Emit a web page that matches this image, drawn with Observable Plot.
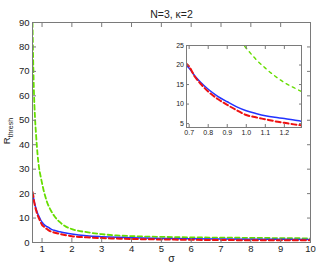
<!DOCTYPE html>
<html><head><meta charset="utf-8">
<script src="https://cdn.jsdelivr.net/npm/d3@7"></script>
<script src="https://cdn.jsdelivr.net/npm/@observablehq/plot@0.6"></script>
<style>
body{margin:0;background:#fff}
#c{position:relative;width:318px;height:267px}
#c svg{font-family:"Liberation Sans",Arial,sans-serif}
#inset{position:absolute;left:166px;top:40px}
</style>
</head><body><div id="c"></div>
<script>
const sigma = [0.68,0.7,0.73,0.76,0.8,0.85,0.9,0.95,1.0,1.05,1.1,1.15,1.2,1.25,1.3,1.4,1.6,1.8,2,2.5,3,3.5,4,5,6,7,8,9,10];
const blue  = [20.2,19.2,17.2,15.6,13.8,12.0,10.6,9.3,8.3,7.6,7.0,6.6,6.3,5.9,5.5,5.0,4.4,3.9,3.5,2.8,2.4,2.1,1.9,1.65,1.5,1.4,1.35,1.3,1.25];
const red   = [20.6,19.6,17.0,15.2,13.2,11.3,9.8,8.4,7.2,6.6,6.1,5.6,5.2,4.8,4.5,4.1,3.5,3.0,2.6,2.1,1.8,1.6,1.45,1.25,1.1,1.0,0.95,0.9,0.9];
const green = [90,76,61,52,44,36,30.5,27.2,24.3,21.5,19.2,17.2,15.5,14.2,13.0,11.0,8.3,6.5,5.5,4.2,3.4,2.9,2.6,2.3,2.1,2.0,1.9,1.8,1.7];
const xTicks = [1,2,3,4,5,6,7,8,9,10];
const yTicks = [0,10,20,30,40,50,60,70,80,90];
const insetXTicks = [0.7,0.8,0.9,1,1.1,1.2];
const insetYTicks = [5,10,15,20,25];
const title = "N=3, κ=2";
const xLabel = "σ";

const data = sigma.map((s,i)=>({sigma:s, blue:blue[i], red:red[i], green:green[i]}));
const axisCol = "#7a7a7a";
const lines = (gDash, gW) => [
  Plot.line(data,{x:"sigma",y:"green",stroke:"#66dd00",strokeWidth:gW,strokeDasharray:gDash,curve:"monotone-x",clip:true}),
  Plot.line(data,{x:"sigma",y:"blue",stroke:"#2233ff",strokeWidth:1.5,curve:"monotone-x",clip:true}),
  Plot.line(data,{x:"sigma",y:"red",stroke:"#ee1111",strokeWidth:2,strokeDasharray:"5,3",curve:"monotone-x",clip:true})
];

const main = Plot.plot({
  width:318, height:267,
  marginLeft:32, marginRight:8, marginTop:22, marginBottom:25,
  style:{fontFamily:"'Liberation Sans',Arial,sans-serif", fontSize:"9.5px", color:"#222", background:"white", overflow:"visible"},
  x:{domain:[0.68,10]},
  y:{domain:[0,90]},
  marks:[
    ...lines("4.5,3",1.8),
    Plot.frame({stroke:axisCol}),
    Plot.axisX(xTicks,{anchor:"bottom",tickSize:-4,tickPadding:7,stroke:axisCol,label:null}),
    Plot.axisX(xTicks,{anchor:"top",tickSize:-4,tickFormat:()=>"",stroke:axisCol,label:null}),
    Plot.axisY(yTicks,{anchor:"left",tickSize:-4,tickPadding:7,stroke:axisCol,label:null}),
    Plot.axisY(yTicks,{anchor:"right",tickSize:-4,tickFormat:()=>"",stroke:axisCol,label:null}),
    Plot.text([title],{frameAnchor:"top",dy:-12,fontSize:10.5,fill:"#222"}),
    Plot.text([xLabel],{frameAnchor:"bottom",dy:19,fontSize:10.5,fill:"#222"})
  ]
});
document.getElementById("c").appendChild(main);

// y label with subscript
const yl = d3.select(main).append("text")
  .attr("transform","translate(10,131) rotate(-90)")
  .attr("text-anchor","middle")
  .attr("fill","#222")
  .style("font-size","9.5px");
yl.append("tspan").text("R");
yl.append("tspan").attr("baseline-shift","-3").style("font-size","7px").text("thresh");

const inset = Plot.plot({
  width:140, height:100,
  marginLeft:20, marginRight:5, marginTop:5, marginBottom:13,
  style:{fontFamily:"'Liberation Sans',Arial,sans-serif", fontSize:"7px", color:"#222", background:"white", overflow:"visible"},
  x:{domain:[0.686,1.29]},
  y:{domain:[4.0,25]},
  marks:[
    Plot.frame({fill:"white",stroke:"none"}),
    ...lines("3,4",1.4),
    Plot.frame({stroke:axisCol}),
    Plot.axisX(insetXTicks,{anchor:"bottom",tickSize:-3,tickPadding:5.5,stroke:axisCol,label:null}),
    Plot.axisX(insetXTicks,{anchor:"top",tickSize:-3,tickFormat:()=>"",stroke:axisCol,label:null}),
    Plot.axisY(insetYTicks,{anchor:"left",tickSize:-3,tickPadding:5.5,stroke:axisCol,label:null}),
    Plot.axisY(insetYTicks,{anchor:"right",tickSize:-3,tickFormat:()=>"",stroke:axisCol,label:null})
  ]
});
inset.id = "inset";
document.getElementById("c").appendChild(inset);
</script>
</body></html>
